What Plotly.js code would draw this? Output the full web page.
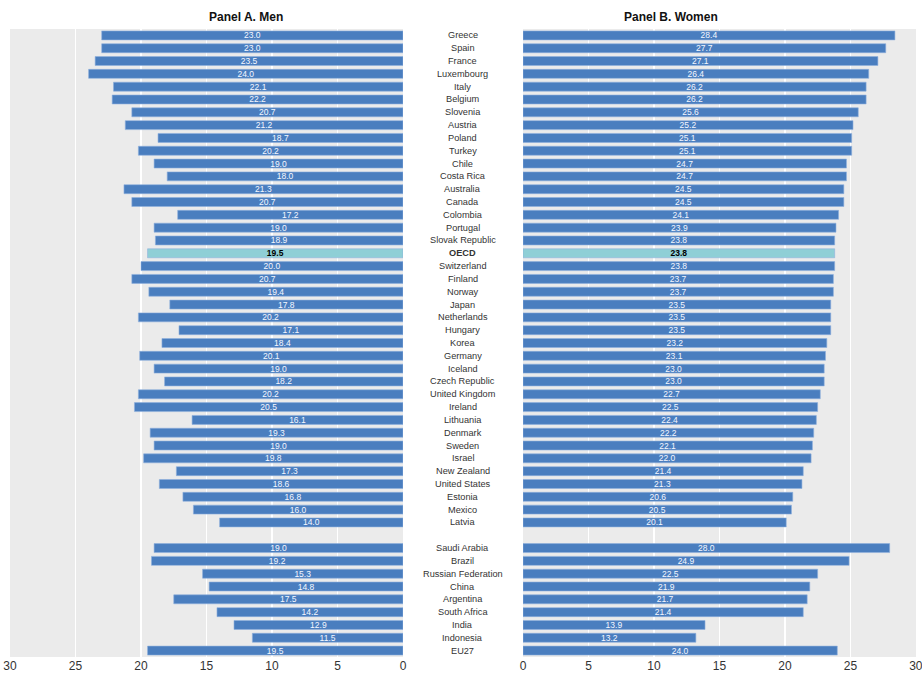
<!DOCTYPE html>
<html>
<head>
<meta charset="utf-8">
<script src="https://cdn.plot.ly/plotly-3.0.1.min.js"></script>
<style>html,body{margin:0;padding:0;background:#fff}#chart{width:922px;height:680px}</style>
</head>
<body>
<div id="chart"></div>
<script>
const oecdCountries = ["Greece","Spain","France","Luxembourg","Italy","Belgium","Slovenia","Austria","Poland","Turkey","Chile","Costa Rica","Australia","Canada","Colombia","Portugal","Slovak Republic","OECD","Switzerland","Finland","Norway","Japan","Netherlands","Hungary","Korea","Germany","Iceland","Czech Republic","United Kingdom","Ireland","Lithuania","Denmark","Sweden","Israel","New Zealand","United States","Estonia","Mexico","Latvia"];
const partnerCountries = ["Saudi Arabia","Brazil","Russian Federation","China","Argentina","South Africa","India","Indonesia","EU27"];
const menOecd = [23.0,23.0,23.5,24.0,22.1,22.2,20.7,21.2,18.7,20.2,19.0,18.0,21.3,20.7,17.2,19.0,18.9,19.5,20.0,20.7,19.4,17.8,20.2,17.1,18.4,20.1,19.0,18.2,20.2,20.5,16.1,19.3,19.0,19.8,17.3,18.6,16.8,16.0,14.0];
const menPartners = [19.0,19.2,15.3,14.8,17.5,14.2,12.9,11.5,19.5];
const womenOecd = [28.4,27.7,27.1,26.4,26.2,26.2,25.6,25.2,25.1,25.1,24.7,24.7,24.5,24.5,24.1,23.9,23.8,23.8,23.8,23.7,23.7,23.5,23.5,23.5,23.2,23.1,23.0,23.0,22.7,22.5,22.4,22.2,22.1,22.0,21.4,21.3,20.6,20.5,20.1];
const womenPartners = [28.0,24.9,22.5,21.9,21.7,21.4,13.9,13.2,24.0];
const panelTitles = ["Panel A. Men","Panel B. Women"];
const axisTicks = [0,5,10,15,20,25,30];

const SPACER = "spacer";
const cats = oecdCountries.concat([SPACER], partnerCountries);
const men = menOecd.concat([null], menPartners);
const women = womenOecd.concat([null], womenPartners);

const BLUE = "#4a7ebf", TEAL = "#8fcfd6";
const colors = cats.map(c => c === "OECD" ? TEAL : BLUE);
const txtColors = cats.map(c => c === "OECD" ? "#000" : "#f4f7ff");
const fmt = (vals) => vals.map((v, i) => v == null ? "" : (cats[i] === "OECD" ? "<b>" + v.toFixed(1) + "</b>" : v.toFixed(1)));

const FONT = "Liberation Sans Narrow, Arial Narrow, Liberation Sans, Arial, sans-serif";
const W = 922;

function barTrace(vals, xa) {
  return {
    type: "bar", orientation: "h", x: vals, y: cats, xaxis: xa, yaxis: "y",
    marker: {color: colors, line: {color: "#8fb0dd", width: 0.6}},
    text: fmt(vals), textposition: "inside", insidetextanchor: "middle", textangle: 0,
    constraintext: "none",
    textfont: {family: FONT, size: 8.5, color: txtColors},
    hoverinfo: "x+y", showlegend: false
  };
}

const annotations = cats.filter(c => c !== SPACER).map(c => ({
  xref: "paper", yref: "y", x: 463 / W, y: c, text: c === "OECD" ? "<b>OECD</b>" : c,
  showarrow: false, xanchor: "center", yanchor: "middle",
  font: {family: FONT, size: 9.2, color: "#333"}
}));
annotations.push({xref: "paper", yref: "paper", x: 206.5 / W, y: 1, yanchor: "bottom", yshift: 3,
  text: "<b>" + panelTitles[0] + "</b>", showarrow: false, font: {family: FONT, size: 12, color: "#111"}});
annotations.push({xref: "paper", yref: "paper", x: 719.5 / W, y: 1, yanchor: "bottom", yshift: 3,
  text: "<b>" + panelTitles[1] + "</b>", showarrow: false, font: {family: FONT, size: 12, color: "#111"}});

const xCommon = {
  tickmode: "array", tickvals: axisTicks, ticktext: axisTicks.map(String),
  showgrid: true, gridcolor: "#ffffff", gridwidth: 1.5, zeroline: false,
  showline: false, ticks: "", ticklabeloverflow: "allow",
  tickfont: {family: FONT, size: 12, color: "#333"}, fixedrange: true
};

const layout = {
  width: 922, height: 680,
  margin: {l: 0, r: 0, t: 29, b: 23},
  paper_bgcolor: "#ffffff", plot_bgcolor: "#ebebeb",
  bargap: 0.3,
  xaxis: Object.assign({}, xCommon, {domain: [10 / W, 403 / W], range: [30, 0], anchor: "y"}),
  xaxis2: Object.assign({}, xCommon, {domain: [523 / W, 916 / W], range: [0, 30.01], anchor: "y"}),
  yaxis: {type: "category", categoryorder: "array", categoryarray: cats,
    range: [cats.length - 0.5, -0.5], showticklabels: false, showgrid: false,
    zeroline: false, ticks: "", anchor: "x", fixedrange: true},
  annotations: annotations,
  font: {family: FONT}
};

Plotly.newPlot("chart", [barTrace(men, "x"), barTrace(women, "x2")], layout, {displayModeBar: false, staticPlot: true});
</script>
</body>
</html>
